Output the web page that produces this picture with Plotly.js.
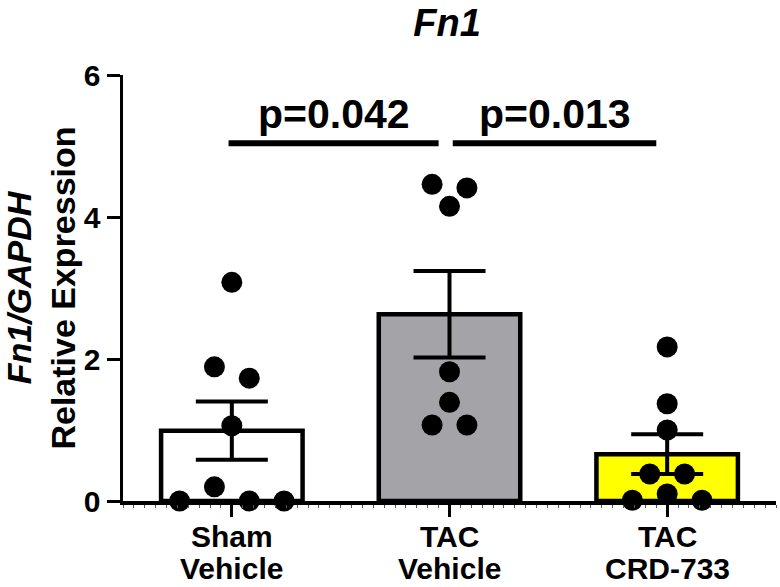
<!DOCTYPE html>
<html>
<head>
<meta charset="utf-8">
<script src="https://cdn.plot.ly/plotly-3.0.1.min.js"></script>
<style>
  body { margin: 0; background: #fff; }
  #fn1 { width: 780px; height: 587px; }
</style>
</head>
<body>
<div id="fn1"></div>
<script>
// groups and summary values (mean +/- SEM)
var groupTop = ['Sham', 'TAC', 'TAC'];
var groupBottom = ['Vehicle', 'Vehicle', 'CRD-733'];
var means = [0.99, 2.63, 0.66];
var sems = [0.41, 0.61, 0.28];
var barColors = ['#ffffff', '#a3a3a8', '#ffff00'];

// individual animals
var shamVals = [3.08, 1.89, 1.73, 1.06, 0.20, 0, 0, 0];
var tacVals = [4.46, 4.41, 4.15, 1.82, 1.39, 1.07, 1.07];
var crdVals = [2.17, 1.37, 1.00, 0.38, 0.38, 0.01, 0.10, 0.01];

// horizontal scatter of the dots inside each group (category units)
var shamSpread = [0, -0.08, 0.08, 0, -0.08, -0.24, 0.08, 0.24];
var tacSpread = [-0.08, 0.08, 0, 0, 0, -0.08, 0.08];
var crdSpread = [0, 0, 0, -0.08, 0.08, -0.16, 0, 0.16];

// significance comparisons
var compFrom = [0, 1];
var compTo = [1, 2];
var pLabels = ['p=0.042', 'p=0.013'];
var bracketY = 5.04;

var font = 'Liberation Sans, Arial, sans-serif';
var groupIdx = [0, 1, 2];

var bars = {
  x: groupIdx,
  y: means,
  type: 'bar',
  width: 0.65,
  marker: {
    color: barColors,
    line: {color: '#000', width: 4.5}
  },
  error_y: {
    type: 'data',
    array: sems,
    visible: true,
    color: '#000',
    thickness: 4,
    width: 36
  },
  hoverinfo: 'skip'
};

var allVals = [shamVals, tacVals, crdVals];
var allSpread = [shamSpread, tacSpread, crdSpread];
var dotX = [], dotY = [];
for (var g = 0; g < allVals.length; g++) {
  for (var i = 0; i < allVals[g].length; i++) {
    dotX.push(g + allSpread[g][i]);
    dotY.push(allVals[g][i]);
  }
}

var dots = {
  x: dotX,
  y: dotY,
  type: 'scatter',
  mode: 'markers',
  marker: {color: '#000', size: 21},
  cliponaxis: false,
  hoverinfo: 'skip'
};

var labelFont = {family: font, size: 30, weight: 'bold', color: '#000'};
var shapes = [], annotations = [];
for (var k = 0; k < pLabels.length; k++) {
  var x0 = compFrom[k] + (k ? 0.015 : -0.015), x1 = compTo[k] - 0.05;
  shapes.push({
    type: 'line', xref: 'x', yref: 'y',
    x0: x0, x1: x1, y0: bracketY, y1: bracketY,
    line: {color: '#000', width: 6}
  });
  annotations.push({
    xref: 'x', yref: 'y',
    x: (x0 + x1) / 2, y: bracketY,
    yanchor: 'bottom', yshift: 4,
    text: pLabels[k], showarrow: false,
    font: {family: font, size: 41, weight: 'bold', color: '#000'}
  });
}

// two-line category labels under the axis
for (var c = 0; c < groupIdx.length; c++) {
  annotations.push({
    xref: 'x', yref: 'y', x: groupIdx[c], y: 0,
    yanchor: 'middle', yshift: -35,
    text: groupTop[c], showarrow: false, font: labelFont
  });
  annotations.push({
    xref: 'x', yref: 'y', x: groupIdx[c], y: 0,
    yanchor: 'middle', yshift: -67,
    text: groupBottom[c], showarrow: false, font: labelFont
  });
}

var layout = {
  width: 780,
  height: 587,
  margin: {l: 123, r: 4, t: 75, b: 86},
  paper_bgcolor: '#fff',
  plot_bgcolor: '#fff',
  showlegend: false,
  title: {
    text: '<i>Fn1</i>',
    font: {family: font, size: 38, weight: 'bold', color: '#000'},
    x: 447 / 780, xanchor: 'center',
    y: 1 - 23 / 587, yanchor: 'middle'
  },
  xaxis: {
    range: [-0.5, 2.5],
    tickvals: groupIdx,
    showticklabels: false,
    showline: true, linecolor: '#000', linewidth: 3.5,
    ticks: 'outside', ticklen: 12, tickwidth: 3, tickcolor: '#000',
    showgrid: false, zeroline: false,
    minor: {dtick: 0.05, ticks: 'outside', ticklen: 3, tickwidth: 1, tickcolor: '#555', showgrid: false}
  },
  yaxis: {
    range: [0, 6],
    tickvals: [0, 2, 4, 6],
    showline: true, linecolor: '#000', linewidth: 3.5,
    ticks: 'outside', ticklen: 13, tickwidth: 3, tickcolor: '#000',
    showgrid: false, zeroline: false,
    tickfont: {family: font, size: 30, weight: 'bold', color: '#000'},
    title: {
      text: '<i>Fn1/GAPDH</i><br>Relative Expression',
      font: {family: font, size: 34, weight: 'bold', color: '#000'},
      standoff: 4
    }
  },
  shapes: shapes,
  annotations: annotations
};

Plotly.newPlot('fn1', [bars, dots], layout, {staticPlot: true});
</script>
</body>
</html>
